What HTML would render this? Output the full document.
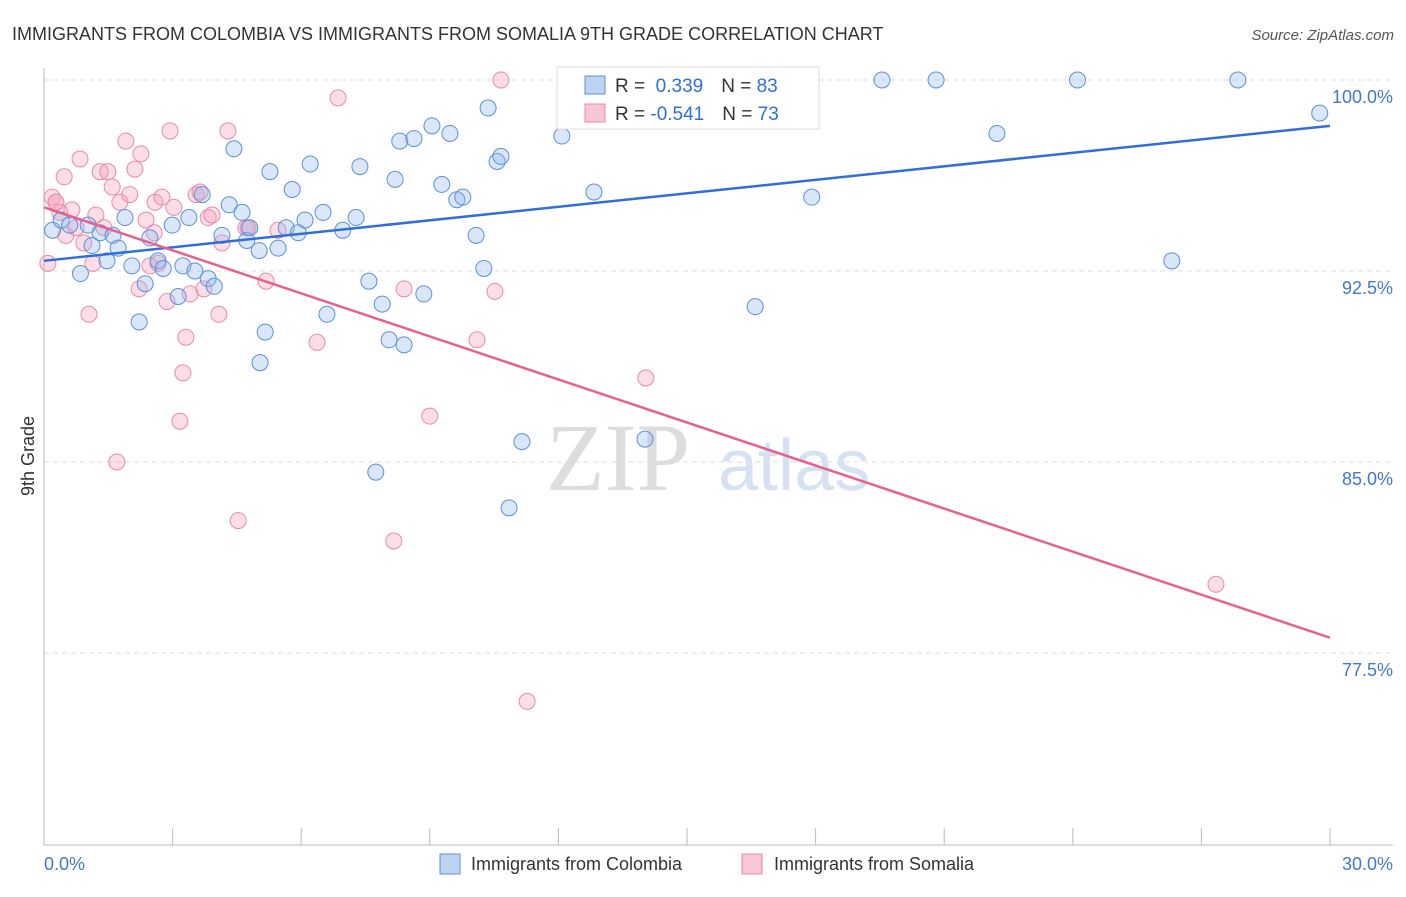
<!DOCTYPE html>
<html><head><meta charset="utf-8"><style>
body{margin:0;background:#fff;font-family:"Liberation Sans",sans-serif}
</style></head><body>
<svg width="1406" height="892" xmlns="http://www.w3.org/2000/svg">
<text x="12" y="40" font-size="18" fill="#333">IMMIGRANTS FROM COLOMBIA VS IMMIGRANTS FROM SOMALIA 9TH GRADE CORRELATION CHART</text>
<text x="1394" y="40" font-size="15" fill="#555" font-style="italic" text-anchor="end">Source: ZipAtlas.com</text>
<g id="grid"></g>
<line x1="44" y1="68" x2="44" y2="845" stroke="#bbb"/>
<line x1="44" y1="845" x2="1393" y2="845" stroke="#bbb"/>
<text x="690" y="490" font-size="96" fill="#ddd" text-anchor="end" font-family="Liberation Serif">ZIP</text>
<text x="718" y="490" font-size="72" fill="#d6e2f3">atlas</text>
<text x="34" y="456" font-size="18" fill="#333" transform="rotate(-90 34 456)" text-anchor="middle">9th Grade</text>
<text x="44" y="870" font-size="18" fill="#4477cc">0.0%</text>
<text x="1393" y="870" font-size="18" fill="#4477cc" text-anchor="end">30.0%</text>
<g id="marks"></g>
<g>
<rect x="557" y="67" width="262" height="62" fill="#fff" stroke="#ddd"/>
<rect x="585" y="76" width="20" height="18" fill="#bcd3f2" stroke="#5b8fdc"/>
<rect x="585" y="104" width="20" height="18" fill="#f8c6d5" stroke="#e889a8"/>
<text x="615" y="92" font-size="19" fill="#333">R = <tspan fill="#2f6fd6">&#160;0.339</tspan><tspan dx="18">N = </tspan><tspan fill="#2f6fd6">83</tspan></text>
<text x="615" y="120" font-size="19" fill="#333">R = <tspan fill="#2f6fd6">-0.541</tspan><tspan dx="18">N = </tspan><tspan fill="#2f6fd6">73</tspan></text>
</g>
<g>
<rect x="440" y="854" width="20" height="20" fill="#bcd3f2" stroke="#5b8fdc"/>
<text x="471" y="870" font-size="18" fill="#333">Immigrants from Colombia</text>
<rect x="742" y="854" width="20" height="20" fill="#f8c6d5" stroke="#e889a8"/>
<text x="774" y="870" font-size="18" fill="#333">Immigrants from Somalia</text>
</g>
</svg>
<script>
const yTicks=[100,92.5,85,77.5];
const yTickLabels=["100.0%","92.5%","85.0%","77.5%"];
const xTicks=[0,3,6,9,12,15,18,21,24,27,30];
const colX=[0.2,0.4,0.6,0.85,1.03,1.12,1.31,1.47,1.61,1.73,1.89,2.05,2.22,2.36,2.47,2.66,2.78,2.99,3.13,3.24,3.38,3.52,3.69,3.83,3.97,4.15,4.32,4.43,4.62,4.73,4.8,5.02,5.16,5.04,5.27,5.46,5.65,5.79,5.93,6.09,6.21,6.51,6.6,6.97,7.28,7.37,7.58,7.89,8.05,8.19,8.3,8.4,8.63,8.86,9.05,9.28,9.47,9.63,9.77,10.08,10.26,10.36,10.57,10.66,10.85,11.15,12.08,12.83,13.86,14.02,15.98,16.59,17.91,19.55,20.81,22.23,24.11,26.31,27.85,29.76,7.74];
const colY=[94.1,94.5,94.3,92.4,94.3,93.5,94.0,92.9,93.9,93.4,94.6,92.7,90.5,92.0,93.8,92.9,92.6,94.3,91.5,92.7,94.6,92.5,95.5,92.2,91.9,93.9,95.1,97.3,94.8,93.7,94.2,93.3,90.1,88.9,96.4,93.4,94.2,95.7,94.0,94.5,96.7,94.8,90.8,94.1,94.6,96.6,92.1,91.2,89.8,96.1,97.6,89.6,97.7,91.6,98.2,95.9,97.9,95.3,95.4,93.9,92.6,98.9,96.8,97.0,83.2,85.8,97.8,95.6,100.0,85.9,100.0,91.1,95.4,100.0,100.0,97.9,100.0,92.9,100.0,98.7,84.6];
const somX=[0.19,0.28,0.37,0.47,0.51,0.65,0.75,0.84,0.93,1.05,1.14,1.21,1.31,1.4,1.49,1.59,1.7,1.77,1.91,2.0,2.12,2.22,2.26,2.38,2.47,2.59,2.66,2.75,2.87,2.94,3.03,3.17,3.24,3.31,3.41,3.55,3.64,3.73,3.83,3.92,4.08,4.15,4.29,4.53,4.71,4.76,5.18,5.46,6.37,6.86,8.16,8.4,9.0,10.1,10.52,10.66,11.27,14.04,27.34,0.09,0.28,2.57];
const somY=[95.4,95.2,94.8,96.2,93.9,94.9,94.2,96.9,93.6,90.8,92.8,94.7,96.4,94.2,96.4,95.8,85.0,95.2,97.6,95.5,96.5,91.8,97.1,94.5,92.7,95.2,92.8,95.4,91.3,98.0,95.0,86.6,88.5,89.9,91.6,95.5,95.6,91.8,94.6,94.7,90.8,93.6,98.0,82.7,94.2,94.2,92.1,94.1,89.7,99.3,81.9,91.8,86.8,89.8,91.7,100.0,75.6,88.3,80.2,92.8,95.2,94.0];
const blueLine=[[0,92.9],[30,98.2]];
const pinkLine=[[0,95.0],[30,78.1]];
const NS="http://www.w3.org/2000/svg";
const X=v=>44+v/30*1286;
const Y=v=>80+(100-v)/7.5*191;
const grid=document.getElementById('grid'),marks=document.getElementById('marks');
function mk(tag,attrs,parent){const e=document.createElementNS(NS,tag);for(const k in attrs)e.setAttribute(k,attrs[k]);parent.appendChild(e);return e;}
yTicks.forEach((t,i)=>{
 const l=mk('line',{x1:44,x2:1393,y1:Y(t),y2:Y(t),stroke:'#ddd','stroke-dasharray':'5,4'},grid);
 
 
 const tx=mk('text',{x:1393,y:Y(t)+23,'font-size':18,fill:'#4477cc','text-anchor':'end'},grid);
 tx.textContent=yTickLabels[i];
 
 
});
xTicks.forEach(t=>{
 const l=mk('line',{x1:X(t),x2:X(t),y1:828,y2:845,stroke:'#bbb'},grid);
 
 
});
somX.forEach((x,i)=>{
 const c=mk('circle',{cx:X(x),cy:Y(somY[i]),r:8,fill:'rgba(244,160,188,0.35)',stroke:'#e88aaa','stroke-width':1},marks);
 
 
});
colX.forEach((x,i)=>{
 const c=mk('circle',{cx:X(x),cy:Y(colY[i]),r:8,fill:'rgba(150,185,235,0.35)',stroke:'#5b8fdc','stroke-width':1},marks);
 
 
});
const bl=mk('line',{x1:X(blueLine[0][0]),y1:Y(blueLine[0][1]),x2:X(blueLine[1][0]),y2:Y(blueLine[1][1]),stroke:'#2f6fd6','stroke-width':2.5},marks);


const pl=mk('line',{x1:X(pinkLine[0][0]),y1:Y(pinkLine[0][1]),x2:X(pinkLine[1][0]),y2:Y(pinkLine[1][1]),stroke:'#e5628f','stroke-width':2.5},marks);


</script>
</body></html>
